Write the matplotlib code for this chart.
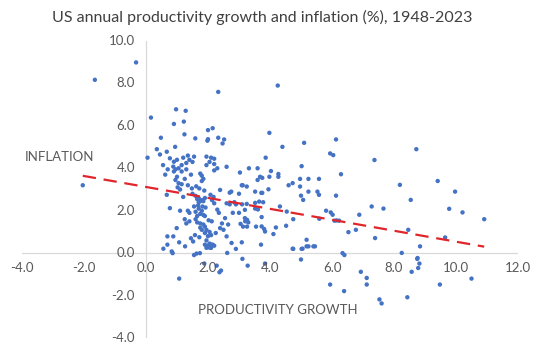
import matplotlib
matplotlib.use("Agg")
import matplotlib.pyplot as plt
import numpy as np

title = "US annual productivity growth and inflation (%), 1948-2023"
x_label = "PRODUCTIVITY GROWTH"
y_label = "INFLATION"
x_ticks = [-4.0, -2.0, 0.0, 2.0, 4.0, 6.0, 8.0, 10.0, 12.0]
y_ticks = [-4.0, -2.0, 0.0, 2.0, 4.0, 6.0, 8.0, 10.0]

# productivity growth (x) and inflation (y)
productivity = [
    -1.65, -0.32, 0.16, -2.04, 0.05, 2.33, 0.97, 1.28, 0.90, 1.22, 2.00, 2.15, 1.24, 0.48, 1.59,
    2.33, 2.00, 2.52, 3.98, 4.25, 6.13,
    1.98, 2.47, 0.94, 0.67, 0.77, 0.90, 0.88,
    1.00, 1.20, 1.35, 1.40, 1.30, 1.15, 1.05, 0.95, 0.90, 1.15, 1.30, 1.50, 1.55, 1.00, 0.95, 1.05,
    1.02, 1.10, 1.25, 1.45,
    1.95, 2.10, 2.20, 2.05, 1.95, 2.20, 2.30,
    1.75, 1.80, 1.85, 1.80, 2.20, 2.60, 3.03, 3.09, 2.39, 2.75, 2.70, 3.00, 3.25, 0.67,
    1.50, 1.60, 1.70, 1.65, 1.80, 1.75, 1.85, 1.70, 1.90, 2.13, 2.20,
    2.60, 2.70, 2.85, 2.90, 3.10,
    0.77, 1.10, 1.35, 1.40,
    1.70, 1.60, 1.75, 1.80, 1.85, 1.90, 1.65,
    2.30, 2.35, 2.80, 3.00, 3.20, 3.30,
    1.25, 1.40, 1.30,
    1.60, 1.65, 1.75, 1.85, 1.75, 1.90, 1.80,
    1.95, 2.05, 1.90, 2.00, 2.10, 1.95, 2.05, 2.15, 2.00, 1.90, 2.10, 1.95,
    0.99, 0.88, 0.69, 2.39, 2.50, 2.60, 2.76,
    0.56, 0.69, 0.83, 0.86, 1.07, 1.26, 1.55, 1.63, 1.74, 2.00, 2.05, 2.10, 2.20, 1.88, 2.28,
    2.42, 2.37, 1.07, 2.62, 2.90, 3.11, 3.28, 3.09, 3.71, 3.84, 4.75, 5.02, 5.18, 5.40, 5.00, 5.94,
    4.40, 5.10, 5.94, 6.04, 3.86, 3.32, 3.60, 4.03, 3.60, 3.68, 3.75, 3.98, 4.27, 4.27, 5.02,
    4.97, 5.24, 5.58, 4.60, 4.73, 3.12, 4.97, 5.24, 5.53, 3.52, 3.72, 3.75, 3.95, 5.00, 5.07,
    5.58, 3.25, 3.52, 3.65, 3.78, 3.19, 3.52, 3.61, 4.32, 4.54, 4.75, 5.59, 5.81, 5.96, 6.15,
    3.26, 3.19, 3.05, 3.73, 3.13, 3.26, 3.55, 3.73, 3.81, 3.84, 4.19, 4.52, 4.11, 5.18, 5.24,
    5.45, 4.73, 5.05,
    7.37, 8.72, 6.29, 8.19, 8.54, 6.13, 6.02, 6.08, 6.23, 6.88, 7.28, 7.66, 6.53, 6.77, 7.39,
    8.46, 8.25, 8.84, 6.34, 6.40, 8.76,
    9.41, 9.97, 9.78, 10.21, 10.91, 9.65,
    6.39, 6.93, 7.12, 7.12, 7.53, 7.60, 8.43, 8.57, 8.75, 8.82, 8.78, 9.48, 10.50,
    0.55, 0.70, 0.62, 1.15, 1.35, 1.48, 1.62, 1.72, 1.88, 2.08, 2.18, 1.55, 1.68, 1.82, 1.92,
    2.02, 2.12, 1.58, 1.72, 2.25, 2.45, 1.20, 0.35, 0.45, 2.55, 2.65, 1.45, 1.52,
]
inflation = [
    8.17, 8.99, 6.39, 3.20, 4.50, 7.60, 6.78, 6.71, 6.09, 6.20, 5.80, 5.89, 5.60, 5.44, 5.41,
    5.44, 5.37, 5.36, 5.67, 7.90, 5.36,
    5.30, 5.17, 5.01, 4.78, 4.47, 4.31, 4.08,
    4.40, 4.50, 4.60, 4.40, 4.25, 4.15, 4.00, 3.95, 3.85, 3.85, 3.95, 4.30, 4.55, 3.60, 3.45, 3.30,
    3.10, 3.00, 3.50, 3.70,
    4.55, 4.50, 4.45, 4.30, 4.15, 4.20, 4.00,
    3.75, 3.65, 3.50, 3.40, 3.90, 4.07, 3.80, 3.20, 2.98, 2.90, 2.85, 2.80, 3.14, 2.75,
    2.80, 2.70, 2.60, 2.55, 2.50, 2.45, 2.45, 2.40, 2.60, 2.50, 2.35,
    2.35, 2.30, 2.40, 2.30, 2.30,
    2.12, 2.00, 2.00, 1.90,
    2.10, 1.95, 1.85, 2.00, 1.80, 1.75, 1.75,
    2.05, 1.90, 1.90, 1.90, 1.50, 1.45,
    1.60, 1.50, 1.40,
    1.60, 1.45, 1.40, 1.35, 1.20, 1.25, 1.10,
    1.10, 1.00, 0.95, 0.80, 0.85, 0.60, 0.45, 0.40, 0.35, 0.40, 0.25, 0.25,
    1.18, 0.79, 0.79, 1.18, 1.10, 0.79, 0.48,
    0.21, 0.40, 0.08, 0.00, 0.51, 0.32, -0.09, -0.02, 0.00, 0.30, 0.26, 0.40, 0.35, -0.49, -0.59,
    -0.82, -0.90, -1.20, 0.01, 0.20, -0.27, -0.59, 0.51, 0.40, -0.49, 0.20, 0.20, 0.32, 0.32, -0.30, -1.48,
    5.01, 5.20, 4.70, 4.62, 4.50, 4.00, 4.00, 3.87, 3.45, 3.60, 3.55, 3.60, 3.60, 3.73, 4.10,
    3.50, 3.50, 3.50, 3.20, 3.30, 3.20, 3.14, 2.90, 2.90, 2.90, 2.84, 2.84, 3.01, 2.71, 2.51,
    2.75, 2.32, 2.37, 2.43, 2.40, 2.04, 2.10, 2.06, 2.20, 1.96, 1.60, 1.62, 2.00, 1.92, 1.54,
    1.57, 1.65, 1.38, 1.70, 1.25, 1.25, 1.25, 1.26, 1.14, 1.02, 1.21, 1.29, 0.90, 0.63, 0.32,
    0.32, 0.21, 0.21,
    4.39, 4.90, 3.72, 3.22, 2.51, 2.71, 1.81, 1.53, 1.53, 1.81, 2.20, 2.10, 0.99, 1.10, 0.71,
    1.10, 0.01, 0.32, 0.00, -0.09, -0.23,
    3.40, 2.90, 2.09, 1.92, 1.60, 0.74,
    -1.79, -0.88, -1.17, -1.48, -2.18, -2.37, -2.08, -0.88, -0.27, -0.49, -0.70, -1.48, -1.20,
    4.15, 3.95, 3.70, 3.25, 3.20, 3.05, 3.15, 3.05, 2.95, 2.75, 2.65, 2.20, 2.25, 2.20, 2.15,
    1.55, 1.50, 0.85, 0.75, 0.95, 1.40, 2.65, 4.90, 4.65, 1.65, 1.35, 0.70, 0.55,
]

# linear trend line (as drawn in the picture)
trend_slope = -0.258
trend_intercept = 3.12

plt.rcParams['font.family'] = ['Lato', 'DejaVu Sans']
fig = plt.figure(figsize=(5.4, 3.52), dpi=100)
ax = fig.add_axes([22/540, 1-338/352, (518-22)/540, (338-41)/352])
ax.set_xlim(-4, 12)
ax.set_ylim(-4, 10)
for s in ax.spines.values():
    s.set_visible(False)
ax.set_xticks([]); ax.set_yticks([])

axis_col = "#d9d9d9"
ax.axhline(0, color=axis_col, lw=0.9, zorder=1)
ax.axvline(0, color=axis_col, lw=0.9, zorder=1)

ax.scatter(productivity, inflation, s=10, color="#4472C4", edgecolors="none", zorder=3)

xs = np.array([min(productivity), max(productivity)])
ax.plot(xs, trend_slope * xs + trend_intercept, color="#E0252B", lw=1.6,
        dashes=(6, 3.5), zorder=4)

tick_col = "#595959"
for t in x_ticks:
    ax.annotate(f"{t:.1f}", (t, 0), xytext=(0, -9), textcoords="offset pixels",
                ha="center", va="top", fontsize=9.5, color=tick_col)
for t in y_ticks:
    ax.annotate(f"{t:.1f}", (0, t), xytext=(-11, 0), textcoords="offset pixels",
                ha="right", va="center", fontsize=9.5, color=tick_col)

fig.text(278/540, 1-310/352, x_label, ha="center", va="center", fontsize=9.5, color=tick_col)
fig.text(59/540, 1-157/352, y_label, ha="center", va="center", fontsize=9.5, color=tick_col)
fig.text(262/540, 1-17/352, title, ha="center", va="center", fontsize=11.5, color="#404040")

fig.savefig("out.png", dpi=100)
